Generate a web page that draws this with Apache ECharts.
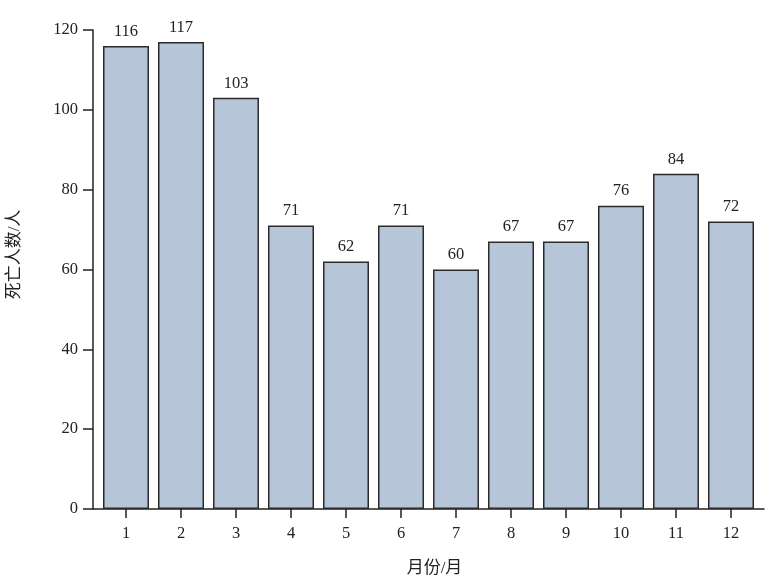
<!DOCTYPE html>
<html>
<head>
<meta charset="utf-8">
<script src="https://cdn.jsdelivr.net/npm/echarts@6/dist/echarts.min.js"></script>
<style>html,body{margin:0;padding:0;background:#fff}#c{width:782px;height:582px}</style>
</head>
<body>
<div id="c"></div>
<script>
const months = [1,2,3,4,5,6,7,8,9,10,11,12];
const deaths = [116,117,103,71,62,71,60,67,67,76,84,72];
const yTicks = [0,20,40,60,80,100,120];

const serif = '"Liberation Serif", "DejaVu Serif", serif';
const cjk = '"Liberation Serif", "Noto Sans CJK SC", serif';
const chart = echarts.init(document.getElementById('c'), null, {renderer:'canvas'});
chart.setOption({
  animation: false,
  backgroundColor: '#ffffff',
  grid: {left: 93, right: 18, top: 30, bottom: 73, containLabel: false, outerBoundsMode: 'none'},
  xAxis: {
    type: 'value', min: 0.4, max: 12.6,
    name: '月份/月', nameLocation: 'middle', nameGap: 51,
    nameTextStyle: {fontFamily: cjk, fontSize: 17, color: '#222', padding: [0,0,0,12]},
    splitLine: {show: false},
    axisLine: {show: true, lineStyle: {color: '#222', width: 1.5}},
    axisTick: {show: true, customValues: months, length: 9, lineStyle: {color: '#222', width: 1.5}},
    axisLabel: {customValues: months, margin: 16, fontFamily: serif, fontSize: 16.5, color: '#222', formatter: v => String(v)}
  },
  yAxis: {
    type: 'value', min: 0, max: 120, interval: 20,
    name: '死亡人数/人', nameLocation: 'middle', nameGap: 70, nameRotate: 90,
    nameTextStyle: {fontFamily: cjk, fontSize: 17, color: '#222', padding: [0,0,0,30]},
    splitLine: {show: false},
    axisLine: {show: true, lineStyle: {color: '#222', width: 1.5}},
    axisTick: {show: true, length: 10, lineStyle: {color: '#222', width: 1.5}},
    axisLabel: {margin: 15, fontFamily: serif, fontSize: 16.5, color: '#222'}
  },
  series: [{
    type: 'bar',
    data: months.map((m, i) => [m, deaths[i]]),
    barWidth: 46,
    itemStyle: {color: '#b7c5d8', borderColor: '#2b2b2b', borderWidth: 1.5},
    label: {show: true, position: 'top', distance: 6, fontFamily: serif, fontSize: 16.5, color: '#222'}
  }]
});
</script>
</body>
</html>
